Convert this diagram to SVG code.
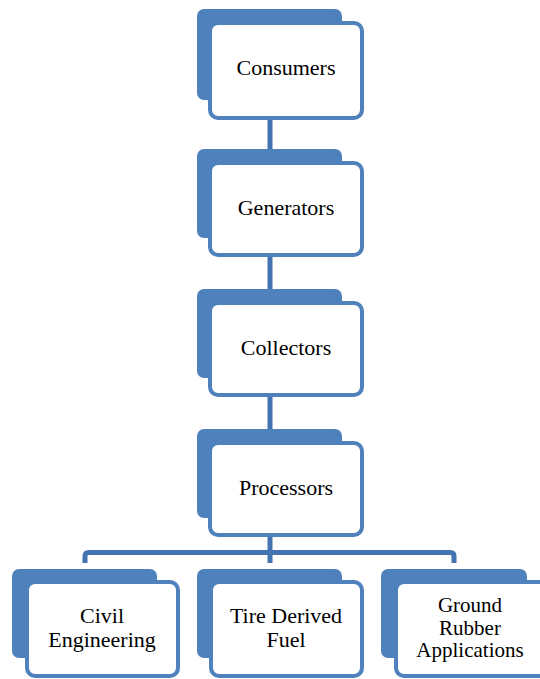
<svg xmlns="http://www.w3.org/2000/svg" width="540" height="679" viewBox="0 0 540 679">
<style>
.back{fill:#4F81BD;}
.front{fill:#FFFFFF;stroke:#4F81BD;stroke-width:4;}
.conn{fill:none;stroke:#4373B0;stroke-width:5;stroke-linejoin:round;}
.lbl{font-family:'Liberation Serif','DejaVu Serif',serif;font-size:22px;fill:#000000;text-anchor:middle;}
.sm{font-size:21px;}
</style>
<rect width="540" height="679" fill="#FFFFFF"/>
<g id="connectors">
<line class="conn" x1="270" y1="120" x2="270" y2="150"/>
<line class="conn" x1="270" y1="257" x2="270" y2="290"/>
<line class="conn" x1="270" y1="397" x2="270" y2="430"/>
<line class="conn" x1="270" y1="537" x2="270" y2="563"/>
<path class="conn" d="M85,563 V556 Q85,552.5 89,552.5 H450 Q454,552.5 454,556 V563"/>
</g>
<g id="consumers">
<rect class="back" x="197" y="9" width="145" height="91" rx="7"/>
<rect class="front" x="210" y="23" width="152" height="95" rx="8"/>
<text class="lbl" x="286" y="75" font-family="Liberation Serif, DejaVu Serif, serif">Consumers</text>
</g>
<g id="generators">
<rect class="back" x="197" y="149" width="145" height="89" rx="7"/>
<rect class="front" x="210" y="163" width="152" height="92" rx="8"/>
<text class="lbl" x="286" y="215" font-family="Liberation Serif, DejaVu Serif, serif">Generators</text>
</g>
<g id="collectors">
<rect class="back" x="197" y="289" width="145" height="89" rx="7"/>
<rect class="front" x="210" y="303" width="152" height="92" rx="8"/>
<text class="lbl" x="286" y="355" font-family="Liberation Serif, DejaVu Serif, serif">Collectors</text>
</g>
<g id="processors">
<rect class="back" x="197" y="429" width="145" height="89" rx="7"/>
<rect class="front" x="210" y="443" width="152" height="92" rx="8"/>
<text class="lbl" x="286" y="495" font-family="Liberation Serif, DejaVu Serif, serif">Processors</text>
</g>
<g id="civil-engineering">
<rect class="back" x="12" y="569" width="145" height="89" rx="7"/>
<rect class="front" x="27" y="582" width="151" height="94" rx="8"/>
<text class="lbl" x="102" y="623" font-family="Liberation Serif, DejaVu Serif, serif">Civil</text>
<text class="lbl" x="102" y="647" font-family="Liberation Serif, DejaVu Serif, serif">Engineering</text>
</g>
<g id="tire-derived-fuel">
<rect class="back" x="197" y="569" width="145" height="89" rx="7"/>
<rect class="front" x="211" y="582" width="151" height="94" rx="8"/>
<text class="lbl" x="286" y="623" font-family="Liberation Serif, DejaVu Serif, serif">Tire Derived</text>
<text class="lbl" x="286" y="647" font-family="Liberation Serif, DejaVu Serif, serif">Fuel</text>
</g>
<g id="ground-rubber-applications">
<rect class="back" x="381" y="569" width="146" height="89" rx="7"/>
<rect class="front" x="396" y="582" width="151" height="94" rx="8"/>
<text class="lbl sm" x="470" y="612" font-family="Liberation Serif, DejaVu Serif, serif">Ground</text>
<text class="lbl sm" x="470" y="635" font-family="Liberation Serif, DejaVu Serif, serif">Rubber</text>
<text class="lbl sm" x="470" y="657" font-family="Liberation Serif, DejaVu Serif, serif">Applications</text>
</g>
</svg>
